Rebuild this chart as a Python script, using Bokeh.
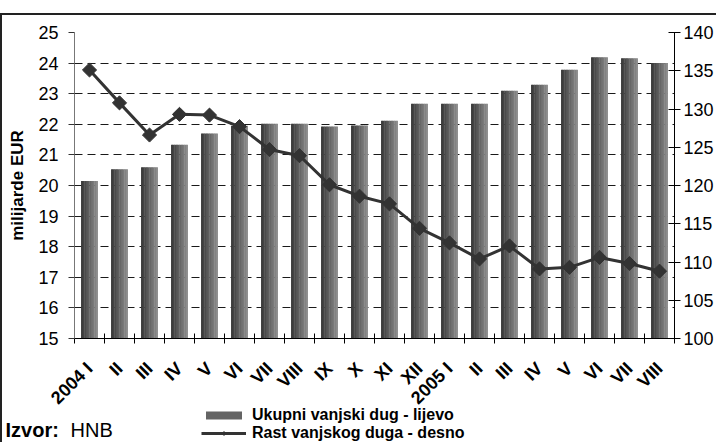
import math
from bokeh.plotting import figure
from bokeh.models import (Range1d, LinearAxis, FixedTicker, Legend, LegendItem,
                          Label, ColumnDataSource, Spacer)
from bokeh.layouts import column
from bokeh.transform import dodge
from bokeh.embed import file_html
from bokeh.resources import INLINE

# ---- data ----
months = ["2004 I", "II", "III", "IV", "V", "VI", "VII", "VIII", "IX", "X", "XI", "XII",
          "2005 I", "II", "III", "IV", "V", "VI", "VII", "VIII"]
debt = [20.15, 20.53, 20.6, 21.33, 21.7, 21.95, 22.02, 22.02, 21.93, 21.96, 22.12, 22.67,
        22.67, 22.67, 23.1, 23.29, 23.78, 24.19, 24.16, 24.0]
growth = [135.1, 130.8, 126.6, 129.3, 129.2, 127.7, 124.7, 123.9, 120.1, 118.6, 117.6, 114.4,
          112.5, 110.4, 112.1, 109.1, 109.3, 110.6, 109.8, 108.8]
left_ticks = [15, 16, 17, 18, 19, 20, 21, 22, 23, 24, 25]
right_ticks = [100, 105, 110, 115, 120, 125, 130, 135, 140]
legend_labels = ["Ukupni vanjski dug - lijevo", "Rast vanjskog duga - desno"]
source_label = ["Izvor:", "HNB"]

FONT = "Liberation Sans"
xs = list(range(len(months)))
src = ColumnDataSource(dict(x=xs, debt=debt, growth=growth))

p = figure(width=714, height=403, x_range=Range1d(-0.5, len(months) - 0.5),
           y_range=Range1d(15, 25), output_backend="svg", toolbar_location=None,
           min_border_left=72, min_border_right=40, min_border_top=17, min_border_bottom=77)
p.extra_y_ranges = {"right": Range1d(100, 140)}
p.outline_line_color = None
p.frame_align = False

# gradient bars built from slices
N = 10
W = 0.55
step = W / N
for k in range(N):
    off = -W / 2 + step * (k + 0.5)
    g = int(58 + (140 - 58) * k / (N - 1))
    col = "#%02x%02x%02x" % (g, g, g)
    p.vbar(x=dodge("x", off), top="debt", bottom=15, width=step * 1.25,
           source=src, fill_color=col, line_color=None)

p.line(x="x", y="growth", source=src, y_range_name="right",
       line_color="#333333", line_width=3)
p.scatter(x="x", y="growth", source=src, y_range_name="right", marker="square",
          angle=math.pi / 4, size=10, fill_color="#333333", line_color="#333333")

# x axis
xa = p.xaxis[0]
xa.ticker = FixedTicker(ticks=xs, minor_ticks=[i - 0.5 for i in range(len(months) + 1)])
xa.major_label_overrides = {i: m for i, m in zip(xs, months)}
xa.major_tick_in = 0
xa.major_tick_out = 0
xa.minor_tick_in = 5
xa.minor_tick_out = 5
xa.minor_tick_line_color = "black"
xa.axis_line_color = "black"
xa.major_label_orientation = math.pi / 4
xa.major_label_standoff = 22
xa.major_label_text_font = FONT
xa.major_label_text_font_style = "bold"
xa.major_label_text_font_size = "18px"
xa.major_label_text_color = "black"

# left axis
ya = p.yaxis[0]
ya.ticker = FixedTicker(ticks=left_ticks)
ya.major_tick_in = 0
ya.major_tick_out = 6
ya.minor_tick_out = 0
ya.minor_tick_in = 0
ya.axis_line_color = "#777777"
ya.major_tick_line_color = "#333333"
ya.major_label_standoff = 10
ya.major_label_text_font = FONT
ya.major_label_text_font_size = "18px"
ya.major_label_text_color = "black"
ya.axis_label = "milijarde EUR"
ya.axis_label_text_font = FONT
ya.axis_label_text_font_style = "bold"
ya.axis_label_text_font_size = "17px"
ya.axis_label_text_color = "black"
ya.axis_label_standoff = 8

# right axis
ra = LinearAxis(y_range_name="right", ticker=FixedTicker(ticks=right_ticks))
ra.major_tick_in = 6
ra.major_tick_out = 6
ra.minor_tick_in = 0
ra.minor_tick_out = 0
ra.axis_line_color = "black"
ra.major_tick_line_color = "black"
ra.major_label_standoff = 3
ra.major_label_text_font = FONT
ra.major_label_text_font_size = "18px"
ra.major_label_text_color = "black"
p.add_layout(ra, "right")

# grid
p.xgrid.visible = False
p.ygrid.ticker = FixedTicker(ticks=left_ticks)
p.ygrid.grid_line_color = "#1a1a1a"
p.ygrid.grid_line_dash = "8 5"
p.ygrid.grid_line_width = 1

# ---- bottom strip: legend + source ----
p2 = figure(width=714, height=36, x_range=Range1d(0, 1), y_range=Range1d(0, 1),
            output_backend="svg", toolbar_location=None, min_border=0,
            x_axis_type=None, y_axis_type=None)
p2.frame_align = False
p2.grid.visible = False
p2.outline_line_color = None
p2.background_fill_alpha = 0
p2.border_fill_alpha = 0
p2.styles = {"margin-top": "-12px"}
# legend key glyphs (their single point lies outside the strip's visible range)
key = ColumnDataSource(dict(x=[-5], top=[-5], y=[-5]))
lb = p2.vbar(x="x", top="top", bottom=-6, width=0.5, source=key,
             fill_color="#646464", line_color=None)
ll = p2.line(x="x", y="y", source=key, line_color="#333333", line_width=3)
ls = p2.scatter(x="x", y="y", source=key, marker="diamond", size=14,
                fill_color="#333333", line_color="#333333")
legend = Legend(items=[LegendItem(label=legend_labels[0], renderers=[lb]),
                       LegendItem(label=legend_labels[1], renderers=[ll, ls])],
                location=(199, 0), orientation="vertical", border_line_color=None,
                background_fill_alpha=0, padding=0, spacing=0, margin=0,
                glyph_width=45, glyph_height=10, label_height=16, label_standoff=6,
                label_text_font=FONT, label_text_font_style="bold",
                label_text_font_size="16px", label_text_color="black")
p2.add_layout(legend, "center")
p2.add_layout(Label(x=3, y=0.03, x_units="screen", y_units="data", text=source_label[0],
                    text_font=FONT, text_font_style="bold", text_font_size="20px",
                    text_color="black", text_baseline="bottom"))
p2.add_layout(Label(x=68, y=0.03, x_units="screen", y_units="data", text=source_label[1],
                    text_font=FONT, text_font_size="20px", text_color="black",
                    text_baseline="bottom"))

inner = column(p, p2, spacing=0,
               styles={"border-top": "2px solid #222222", "border-left": "2px solid #222222"})
layout = column(Spacer(height=13, width=10), inner, spacing=0)

open("out.html", "w").write(file_html(layout, INLINE))
